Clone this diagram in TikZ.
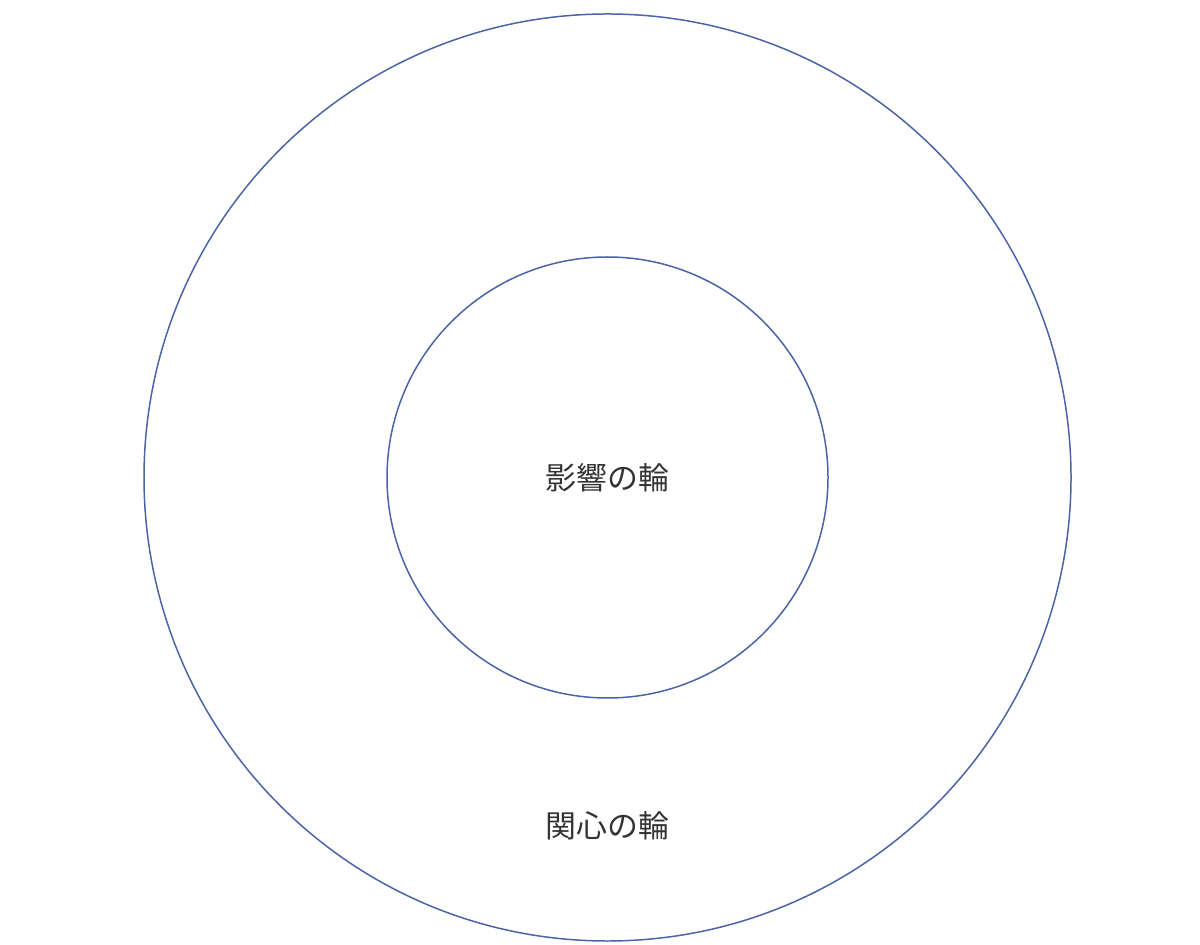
\documentclass[tikz,border=0pt]{standalone}
\usepackage{fontspec}
\newfontfamily\cjk{Noto Sans CJK JP}
\definecolor{ringblue}{HTML}{4A64A6}
\definecolor{ringtext}{HTML}{333333}
\tikzset{
  ring/.style   = {draw = ringblue, line width = 0.85pt},
  ringlabel/.style = {text = ringtext, font = \cjk\fontsize{17.6}{20}\selectfont, inner sep = 0pt}
}
\begin{document}
\begin{tikzpicture}

  % Fix the page to the size of the reference

  \useasboundingbox (0, 0) rectangle (24, 18.88);

  % The common centre of both rings

  \coordinate (O) at (12.15, 9.33);

  % Draw the outer and the inner ring

  \draw[ring] (O) circle (9.27);
  \draw[ring] (O) circle (4.41);

  % Label each ring

  \node[ringlabel] (influence) at (O) {影響の輪};
  \node[ringlabel] (concern)   at (12.15, 2.36) {関心の輪};

\end{tikzpicture}
\end{document}
